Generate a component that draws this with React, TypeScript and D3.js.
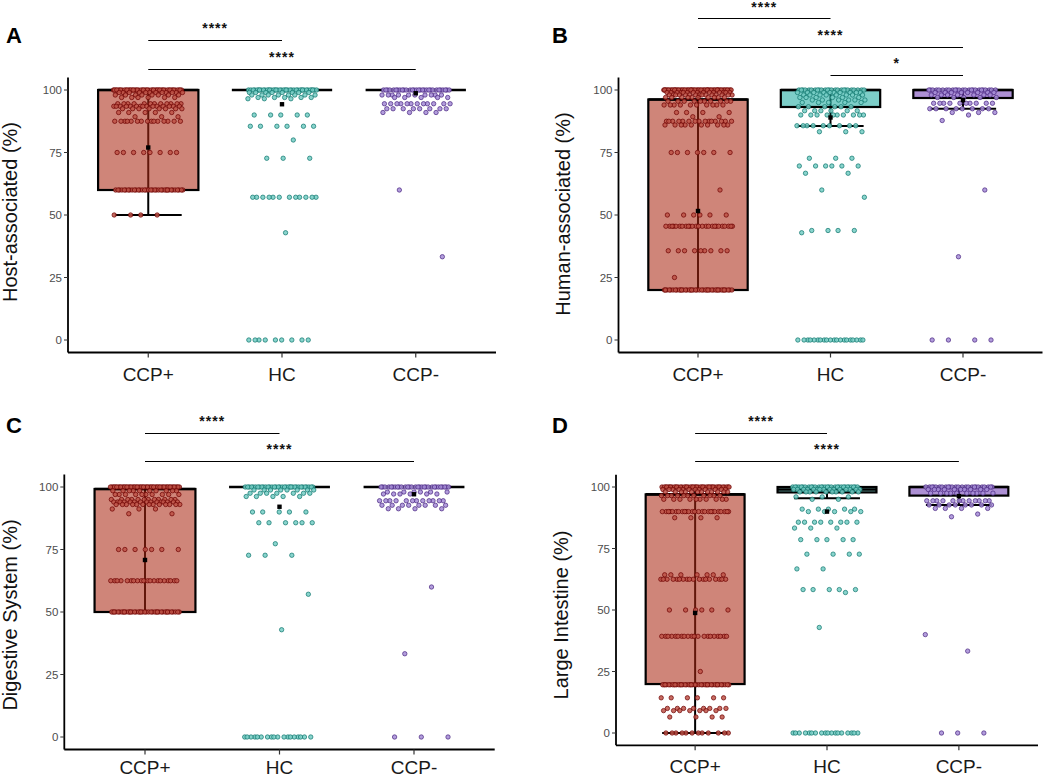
import React from 'react';
import * as d3 from 'd3';

// ---------- DATA ----------
const categories = ['CCP+', 'HC', 'CCP-'];
const yTicks = [0, 25, 50, 75, 100];
const yTitles = ['Host-associated (%)', 'Human-associated (%)', 'Digestive System (%)', 'Large Intestine (%)'];
const panelLetters = ['A', 'B', 'C', 'D'];

// Points per group: [value, count]
const A_CCPpos = [[100,50],[99,12],[98,8],[97,6],[94.5,12],[93.5,15],[92.5,8],[91,5],[89.3,3],[87.5,15],[75,8],[60,35],[50,4]];
const A_HC = [[100,40],[99,8],[98,8],[97,5],[96.5,3],[90,5],[85.5,6],[80,1],[72.7,3],[57.1,12],[42.9,1],[0,9]];
const A_CCPneg = [[100,30],[98,10],[97,5],[94.5,12],[92.5,8],[91,4],[60,1],[33.3,1]];

const B_CCPpos = [[100,60],[99,15],[98,15],[97,10],[95.5,10],[94,10],[91,4],[89.3,2],[87.5,15],[86,10],[75,7],[60,1],[50,6],[45.5,25],[35.7,9],[25,1],[20,40]];
const B_HC = [[100,25],[99,10],[98,8],[97,6],[96,6],[95,5],[93.3,6],[91.7,6],[90,10],[85.7,9],[83.3,3],[72.7,3],[69.6,6],[66.7,2],[60,1],[57.1,1],[43.8,4],[42.9,1],[0,20]];
const B_CCPneg = [[100,25],[99,8],[98,7],[97,5],[94.7,10],[92.5,8],[91,3],[90,1],[87.8,1],[60,1],[33.3,1],[0,4]];

const C_CCPpos = [[100,55],[98.5,10],[97,10],[95,12],[94,15],[93,13],[91.2,3],[89.3,2],[75,7],[62.5,20],[50,40]];
const C_HC = [[100,35],[98.8,8],[97.5,7],[96.2,5],[90,5],[85.7,6],[77.3,1],[72.7,3],[57.1,1],[42.9,1],[0,18]];
const C_CCPneg = [[100,30],[98,6],[97.2,6],[94.5,12],[92.7,8],[91.3,4],[60,1],[33.3,1],[0,3]];

const D_CCPpos = [[100,45],[99,12],[98,12],[96.5,11],[95,10],[90,25],[87.5,4],[64.3,7],[62.5,18],[50,6],[39.3,20],[25,1],[19.6,40],[14.3,6],[10,8],[9.1,7],[6.5,4],[0,12]];
const D_HC = [[100,30],[99,15],[98,10],[96,3],[95,2],[91,5],[90,5],[85.7,8],[83.3,3],[78.6,5],[72.7,4],[66.7,2],[58.3,5],[57.1,1],[42.9,1],[0,18]];
const D_CCPneg = [[100,25],[99,10],[97.5,10],[94.4,12],[92.7,8],[91.3,4],[89,1],[87.9,1],[40,1],[33.3,1],[0,3]];

// Box stats per group: [lowWhisker, q1, median, q3, highWhisker, mean]
const A_box = [[50,60,100,100,100,77],[100,100,100,100,100,94.3],[100,100,100,100,100,98.7]];
const B_box = [[20,20,96.2,96.2,100,51.6],[85.6,93.2,100,100,100,89],[92.5,96.8,100,100,100,96]];
const C_box = [[50,50,99.2,99.2,100,70.8],[100,100,100,100,100,92.1],[100,100,100,100,100,97.1]];
const D_box = [[0,19.9,97,97,100,48.8],[95.4,97.8,99,100,100,90],[92.7,96.5,100,100,100,96.3]];

// Significance brackets: [groupA, groupB, label]
const A_sig = [[0,1,'****'],[0,2,'****']];
const B_sig = [[0,1,'****'],[0,2,'****'],[1,2,'*']];
const C_sig = [[0,1,'****'],[0,2,'****']];
const D_sig = [[0,1,'****'],[0,2,'****']];

const panelPoints = [[A_CCPpos,A_HC,A_CCPneg],[B_CCPpos,B_HC,B_CCPneg],[C_CCPpos,C_HC,C_CCPneg],[D_CCPpos,D_HC,D_CCPneg]];
const panelBoxes = [A_box, B_box, C_box, D_box];
const panelSigs = [A_sig, B_sig, C_sig, D_sig];

// ---------- STYLE / LAYOUT ----------
const boxBase = ['#aa2814', '#1aa89e', '#6e3cb4'];
const ptFill = ['#bd5246', '#74ccc4', '#a48cd6'];
const ptStroke = ['#6b0000', '#0d746c', '#47247f'];

const LAYOUT = [
  { x0: 68, x1: 496, yb: 352.5, yt: 77.5, titleX: 17, titleY: 212, lx: 6, ly: 43, sigY: [40, 69] },
  { x0: 618.5, x1: 1042.5, yb: 352.5, yt: 77.5, titleX: 570, titleY: 214, lx: 552, ly: 43, sigY: [18, 47, 75] },
  { x0: 64.3, x1: 494.7, yb: 749.5, yt: 474.5, titleX: 17, titleY: 615, lx: 6, ly: 433, sigY: [433, 461] },
  { x0: 616, x1: 1038, yb: 745.3, yt: 474.7, titleX: 568, titleY: 615, lx: 552, ly: 433, sigY: [433, 461] },
];

const FONT = "'Liberation Sans', Arial, Helvetica, sans-serif";

function Panel({ idx }: { idx: number }) {
  const L = LAYOUT[idx];
  const y = d3.scaleLinear().domain([-5, 105]).range([L.yb, L.yt]);
  const x = d3.scalePoint<string>().domain(categories).range([L.x0, L.x1]).padding(0.6);
  const step = x.step();
  const bw = step * 0.75;
  const cw = step * 0.5;
  const jw = step * 0.26;

  return (
    <g>
      {categories.map((c, gi) => {
        const [lo, q1, med, q3, hi] = panelBoxes[idx][gi];
        const cx = x(c)!;
        return (
          <g key={'b' + gi}>
            <line x1={cx} x2={cx} y1={y(lo)} y2={y(hi)} stroke="#000" strokeWidth={2} />
            <line x1={cx - cw / 2} x2={cx + cw / 2} y1={y(lo)} y2={y(lo)} stroke="#000" strokeWidth={2} />
            <line x1={cx - cw / 2} x2={cx + cw / 2} y1={y(hi)} y2={y(hi)} stroke="#000" strokeWidth={2} />
            <rect x={cx - bw / 2} y={y(q3)} width={bw} height={Math.max(0, y(q1) - y(q3))}
              fill={boxBase[gi]} fillOpacity={0.57} stroke="#000" strokeWidth={2.2} />
            <line x1={cx - bw / 2} x2={cx + bw / 2} y1={y(med)} y2={y(med)} stroke="#000" strokeWidth={2.6} />
          </g>
        );
      })}
      {categories.map((c, gi) => {
        const cx = x(c)!;
        const pts: { v: number; k: number }[] = [];
        let k = 0;
        panelPoints[idx][gi].forEach(([v, n]) => {
          for (let i = 0; i < n; i++) { pts.push({ v, k }); k++; }
        });
        return (
          <g key={'p' + gi}>
            {pts.map((p, i) => {
              const f = ((p.k * 0.6180339887 + 0.31 * gi + 0.17 * idx) % 1) * 2 - 1;
              return (
                <circle key={i} cx={cx + f * jw} cy={y(p.v)} r={2.2}
                  fill={ptFill[gi]} fillOpacity={0.85} stroke={ptStroke[gi]} strokeWidth={0.7} />
              );
            })}
          </g>
        );
      })}
      {categories.map((c, gi) => {
        const cx = x(c)!;
        const m = panelBoxes[idx][gi][5];
        return <rect key={'m' + gi} x={cx - 2.2} y={y(m) - 2.2} width={4.4} height={4.4} fill="#000" />;
      })}
      <line x1={L.x0} x2={L.x0} y1={L.yt} y2={L.yb} stroke="#000" strokeWidth={1.8} />
      <line x1={L.x0} x2={L.x1} y1={L.yb} y2={L.yb} stroke="#000" strokeWidth={1.8} />
      {yTicks.map(t => (
        <g key={'yt' + t}>
          <line x1={L.x0 - 4} x2={L.x0} y1={y(t)} y2={y(t)} stroke="#333" strokeWidth={1} />
          <text x={L.x0 - 6} y={y(t)} dy="0.35em" textAnchor="end" fontSize={11.5} fill="#4d4d4d" fontFamily={FONT}>{t}</text>
        </g>
      ))}
      {categories.map(c => (
        <g key={'xt' + c}>
          <line x1={x(c)} x2={x(c)} y1={L.yb} y2={L.yb + 5} stroke="#333" strokeWidth={1.2} />
          <text x={x(c)} y={Math.min(L.yb + 28, 774)} textAnchor="middle" fontSize={19} fill="#1a1a1a" fontFamily={FONT}>{c}</text>
        </g>
      ))}
      <text transform={`translate(${L.titleX},${L.titleY}) rotate(-90)`} textAnchor="middle" fontSize={20} fill="#111" fontFamily={FONT}>{yTitles[idx]}</text>
      <text x={L.lx} y={L.ly} fontSize={22} fontWeight="bold" fill="#000" fontFamily={FONT}>{panelLetters[idx]}</text>
      {panelSigs[idx].map(([a, b, lab], si) => {
        const xa = x(categories[a as number])!;
        const xb = x(categories[b as number])!;
        const ly = L.sigY[si];
        return (
          <g key={'s' + si}>
            <line x1={xa} x2={xb} y1={ly + 0.5} y2={ly + 0.5} stroke="#000" strokeWidth={1.1} />
            <text x={(xa + xb) / 2} y={Math.max(ly - 7, 12)} textAnchor="middle" fontSize={14} fontWeight="bold" letterSpacing={1} fill="#111" fontFamily={FONT}>{lab as string}</text>
          </g>
        );
      })}
    </g>
  );
}

export default function App() {
  return (
    <div style={{ position: 'absolute', left: 0, top: 0 }}>
      <svg width={1050} height={778} style={{ display: 'block', background: '#fff' }}>
        {[0, 1, 2, 3].map(i => <Panel key={i} idx={i} />)}
      </svg>
    </div>
  );
}
